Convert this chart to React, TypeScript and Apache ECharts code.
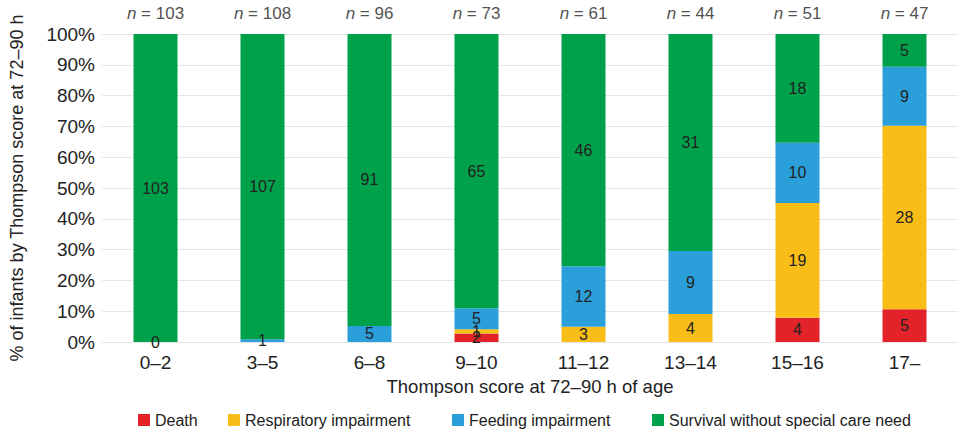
import React, { useEffect, useRef } from "react";
import * as echarts from "echarts";

const categories = ["0–2", "3–5", "6–8", "9–10", "11–12", "13–14", "15–16", "17–"];
const totals = [103, 108, 96, 73, 61, 44, 51, 47];
const death = [0, 0, 0, 2, 0, 0, 4, 5];
const respiratory = [0, 0, 0, 1, 3, 4, 19, 28];
const feeding = [0, 1, 5, 5, 12, 9, 10, 9];
const survival = [103, 107, 91, 65, 46, 31, 18, 5];
const yTicks = [0, 10, 20, 30, 40, 50, 60, 70, 80, 90, 100];

const FONT = "Liberation Sans, Arial, Helvetica, sans-serif";

export default function App() {
  const ref = useRef<HTMLDivElement>(null);
  useEffect(() => {
    document.body.style.margin = "0";
    if (!ref.current) return;
    const chart = echarts.init(ref.current, undefined, { renderer: "svg" });
    const mk = (counts: number[], showZero: boolean) =>
      counts.map((c, i) => ({
        value: (c / totals[i]) * 100,
        count: c,
        label: { show: showZero || c > 0 },
      }));
    const seriesDef = [
      { name: "Death", color: "#e3232a", counts: death, zero: false, left: 138 },
      { name: "Respiratory impairment", color: "#f8bd17", counts: respiratory, zero: false, left: 228 },
      { name: "Feeding impairment", color: "#2b9fd9", counts: feeding, zero: true, left: 452 },
      { name: "Survival without special care need", color: "#00a14b", counts: survival, zero: false, left: 652 },
    ];
    const series: any[] = seriesDef.map((s) => ({
      name: s.name,
      type: "bar",
      stack: "total",
      barWidth: 44,
      itemStyle: { color: s.color },
      label: {
        position: "inside",
        color: "#222",
        fontSize: 16,
        fontFamily: FONT,
        formatter: (p: any) => String(p.data.count),
      },
      data: mk(s.counts, s.zero),
    }));
    series.push({
      name: "n",
      type: "scatter",
      symbolSize: 0,
      silent: true,
      data: totals.map((t) => ({ value: 100, n: t })),
      label: {
        show: true,
        position: "top",
        distance: 12,
        fontFamily: FONT,
        formatter: (p: any) => "{i|n} = " + p.data.n,
        color: "#222",
        fontSize: 17,
        rich: { i: { fontStyle: "italic", fontSize: 17, color: "#222", fontFamily: FONT } },
      },
    });
    chart.setOption({
      animation: false,
      textStyle: { fontFamily: FONT },
      grid: { left: 99, top: 34, width: 873, height: 308, containLabel: false },
      legend: seriesDef.map((s) => ({
        data: [s.name],
        top: 412,
        left: s.left,
        padding: 0,
        itemWidth: 12,
        itemHeight: 12,
        icon: "rect",
        textStyle: { fontSize: 16, color: "#222", fontFamily: FONT },
      })),
      xAxis: {
        type: "category",
        data: categories,
        name: "Thompson score at 72–90 h of age",
        nameLocation: "middle",
        nameGap: 35,
        nameTextStyle: { fontSize: 18.5, color: "#222", fontFamily: FONT },
        axisLine: { show: true, lineStyle: { color: "#e6e6e6" } },
        axisTick: { show: false },
        axisLabel: { fontSize: 19, color: "#222", margin: 11, fontFamily: FONT },
      },
      yAxis: {
        type: "value",
        min: 0,
        max: 100,
        interval: 10,
        name: "% of infants by Thompson score at 72–90 h",
        nameLocation: "middle",
        nameGap: 76,
        nameTextStyle: { fontSize: 18, color: "#222", fontFamily: FONT },
        axisLine: { show: false },
        axisTick: { show: false },
        splitLine: { lineStyle: { color: "#e6e6e6", width: 1 } },
        axisLabel: {
          fontSize: 19,
          color: "#222",
          margin: 7,
          fontFamily: FONT,
          formatter: (v: number) => (yTicks.includes(v) ? v + "%" : ""),
        },
      },
      series,
    });
    return () => chart.dispose();
  }, []);
  return <div ref={ref} style={{ width: 958, height: 433 }} />;
}
